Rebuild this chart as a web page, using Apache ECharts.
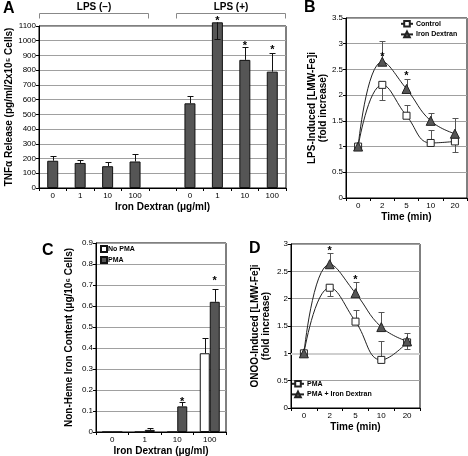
<!DOCTYPE html>
<html><head><meta charset="utf-8">
<script src="https://cdn.jsdelivr.net/npm/echarts@6/dist/echarts.min.js"></script>
<style>html,body{margin:0;padding:0;background:#fff}#c{width:468px;height:456px}</style>
</head><body><div id="c"></div>
<script>
// ---------- Panel A ----------
const aCategories = ['0','1','10','100','','0','1','10','100'];
const aValues = [185,170,148,180,null,575,1125,870,790];
const aErrEnd = [218,192,177,230,null,625,1015,955,915];
const aStarAt = [null,null,null,null,null,null,1154,985,955];
const aGroupLabels = ['LPS (\u2013)','LPS (+)'];
const aGroupRanges = [[0,3],[5,8]];
// ---------- Panel B ----------
const bTimes = ['0','2','5','10','20'];
const bControl = [1,2.2,1.6,1.07,1.1];
const bControlErr = [null,1.9,1.8,1.32,0.9];
const bIron = [1,2.65,2.12,1.5,1.25];
const bIronErr = [null,3.05,2.32,1.65,1.55];
const bStarAt = [null,2.8,2.44,null,null];
// ---------- Panel C ----------
const cCategories = ['0','1','10','100'];
const cNoPma = [0,0,0,0.375];
const cNoPmaErr = [null,null,null,0.447];
const cPma = [0,0.01,0.122,0.62];
const cPmaErr = [null,0.02,0.145,0.68];
const cStarAt = [null,null,0.157,0.733];
// ---------- Panel D ----------
const dTimes = ['0','2','5','10','20'];
const dPma = [1,2.2,1.58,0.88,1.2];
const dPmaErr = [null,2.05,1.8,1.22,1.08];
const dIron = [1,2.63,2.1,1.48,1.22];
const dIronErr = [null,2.83,2.3,1.75,1.38];
const dStarAt = [null,2.92,2.39,null,null];

const FONT = '"Liberation Sans", Arial, Helvetica, sans-serif';
const chart = echarts.init(document.getElementById('c'));

function gridBox(left, top, width, height){
  return {left, top, width, height, show:true, borderColor:'#000', borderWidth:1,
    containLabel:false, outerBoundsMode:'none'};
}
function catAxis(gi, data, name, nameGap){
  return {gridIndex:gi, type:'category', data, boundaryGap:true,
    axisLine:{show:true, lineStyle:{color:'#000', width:1}},
    axisTick:{show:true, length:3, lineStyle:{color:'#000'}},
    axisLabel:{fontSize:8, color:'#000', fontFamily:FONT, margin:4, interval:0},
    name, nameLocation:'middle', nameGap, nameMoveOverlap:false,
    nameTextStyle:{fontSize:10, fontWeight:'bold', color:'#000', fontFamily:FONT}};
}
function valAxis(gi, max, interval, name, nameGap){
  return {gridIndex:gi, type:'value', min:0, max, interval,
    axisLine:{show:true, lineStyle:{color:'#000', width:1}},
    axisTick:{show:true, length:3, lineStyle:{color:'#000'}},
    axisLabel:{fontSize:8, color:'#000', fontFamily:FONT, margin:3,
      formatter:v=>String(+(+v).toFixed(2))},
    splitLine:{show:true, lineStyle:{color:'#a0a0a0', width:1}},
    name, nameLocation:'middle', nameGap, nameRotate:90, nameMoveOverlap:false,
    nameTextStyle:{fontSize:10, fontWeight:'bold', color:'#000', fontFamily:FONT, lineHeight:11}};
}
function errSeries(ai, vals, ends, offset, color){
  const data = [];
  vals.forEach((v,i)=>{ if(v!=null && ends[i]!=null) data.push([i,v,ends[i]]); });
  return {type:'custom', xAxisIndex:ai, yAxisIndex:ai, data, silent:true, z:3,
    encode:{x:0, y:[1,2]},
    renderItem:(p, api)=>{
      const a = api.coord([api.value(0), api.value(1)]);
      const b = api.coord([api.value(0), api.value(2)]);
      const x = Math.round(a[0]+offset)+0.5;
      const yb = Math.round(b[1])+0.5;
      return {type:'group', children:[
        {type:'line', shape:{x1:x, y1:a[1], x2:x, y2:yb}, style:{stroke:color, lineWidth:1}},
        {type:'line', shape:{x1:x-3, y1:yb, x2:x+3, y2:yb}, style:{stroke:color, lineWidth:1}}
      ]};
    }};
}
function starSeries(ai, ys, offset){
  const data = [];
  ys.forEach((y,i)=>{ if(y!=null) data.push([i,y]); });
  return {type:'custom', xAxisIndex:ai, yAxisIndex:ai, data, silent:true, z:4,
    encode:{x:0, y:1},
    renderItem:(p, api)=>{
      const c = api.coord([api.value(0), api.value(1)]);
      return {type:'text', x:c[0]+offset, y:c[1]+3,
        style:{text:'*', fontSize:11, fontWeight:'bold', fontFamily:FONT,
          align:'center', verticalAlign:'middle', textAlign:'center', textVerticalAlign:'middle', fill:'#000'}};
    }};
}
function lineSeries(ai, name, data, symbol, size, fill){
  return {type:'line', name, xAxisIndex:ai, yAxisIndex:ai, data, smooth:0.45,
    symbol, symbolSize:size, showAllSymbol:true, z:5,
    lineStyle:{color:'#222', width:1},
    itemStyle:{color:fill, borderColor:'#222', borderWidth:1}};
}

const bracketData = aGroupRanges.map((r,i)=>[r[0], r[1], i]);

const option = {
  animation:false,
  backgroundColor:'#fff',
  textStyle:{fontFamily:FONT},
  grid:[gridBox(39,26,247,162), gridBox(346,18,121,180), gridBox(96,243,130,189), gridBox(291,244,129,164)],
  xAxis:[
    catAxis(0, aCategories, 'Iron Dextran (\u03bcg/ml)', 14),
    catAxis(1, bTimes, 'Time (min)', 14),
    catAxis(2, cCategories, 'Iron Dextran (\u03bcg/ml)', 14),
    catAxis(3, dTimes, 'Time (min)', 14)
  ],
  yAxis:[
    valAxis(0, 1100, 100, 'TNF\u03b1 Release (pg/ml/2x10\u2075 Cells)', 24),
    valAxis(1, 3.5, 0.5, 'LPS-Induced [LMW-Fe]i\n(fold increase)', 17),
    valAxis(2, 0.9, 0.1, 'Non-Heme Iron Content (\u03bcg/10\u2076 Cells)', 21),
    valAxis(3, 3, 0.5, 'ONOO-Induced [LMW-Fe]i\n(fold increase)', 19)
  ],
  legend:[
    {data:['Control','Iron Dextran'], left:400, top:20, orient:'vertical', padding:0,
      itemWidth:12, itemHeight:7, itemGap:3,
      textStyle:{fontSize:7, fontWeight:'bold', color:'#000', fontFamily:FONT, padding:[0,0,0,-2]}},
    {data:['No PMA','PMA'], left:100, top:245, orient:'vertical', padding:0, icon:'rect',
      itemWidth:6, itemHeight:6, itemGap:3,
      textStyle:{fontSize:7, fontWeight:'bold', color:'#000', fontFamily:FONT, padding:[0,0,0,-4]}},
    {data:['PMA ','PMA + Iron Dextran'], left:291, top:380, orient:'vertical', padding:0,
      itemWidth:12, itemHeight:7, itemGap:3,
      textStyle:{fontSize:7, fontWeight:'bold', color:'#000', fontFamily:FONT, padding:[0,0,0,-2]}}
  ],
  graphic:[
    {type:'text', left:3, top:1, style:{text:'A', font:'bold 16px '+FONT, fill:'#000'}},
    {type:'text', left:304, top:0, style:{text:'B', font:'bold 16px '+FONT, fill:'#000'}},
    {type:'text', left:42, top:243, style:{text:'C', font:'bold 16px '+FONT, fill:'#000'}},
    {type:'text', left:249, top:241, style:{text:'D', font:'bold 16px '+FONT, fill:'#000'}}
  ],
  series:[
    // Panel A
    {type:'bar', xAxisIndex:0, yAxisIndex:0, data:aValues.map(v=>v==null?'-':v), barWidth:11, clip:false,
      itemStyle:{color:'#555', borderColor:'#111', borderWidth:1}, z:2},
    errSeries(0, aValues, aErrEnd, 0, '#111'),
    starSeries(0, aStarAt, 0),
    {type:'custom', xAxisIndex:0, yAxisIndex:0, data:bracketData, silent:true, clip:false,
      encode:{x:[0,1]},
      renderItem:(p, api)=>{
        const band = api.size([1,0])[0];
        const c1 = api.coord([api.value(0), 1100]);
        const c2 = api.coord([api.value(1), 1100]);
        const x1 = Math.round(c1[0]-band/2)+0.5, x2 = Math.round(c2[0]+band/2)-0.5;
        const y = Math.round(c1[1]-13)+0.5;
        return {type:'group', children:[
          {type:'polyline', shape:{points:[[x1,y+5],[x1,y],[x2,y],[x2,y+5]]}, style:{stroke:'#888', lineWidth:1, fill:null}},
          {type:'text', x:(x1+x2)/2, y:y-6, style:{text:aGroupLabels[api.value(2)], fontSize:10, fontWeight:'bold', fontFamily:FONT,
            align:'center', verticalAlign:'middle', textAlign:'center', textVerticalAlign:'middle', fill:'#000'}}
        ]};
      }},
    // Panel B
    errSeries(1, bControl, bControlErr, 0, '#555'),
    errSeries(1, bIron, bIronErr, 0, '#555'),
    lineSeries(1, 'Control', bControl, 'rect', 7, '#fff'),
    lineSeries(1, 'Iron Dextran', bIron, 'triangle', 9, '#555'),
    starSeries(1, bStarAt, 0),
    // Panel C
    {type:'bar', name:'No PMA', xAxisIndex:2, yAxisIndex:2, data:cNoPma, barWidth:10, barGap:'0%',
      itemStyle:{color:'#fff', borderColor:'#111', borderWidth:1}},
    {type:'bar', name:'PMA', xAxisIndex:2, yAxisIndex:2, data:cPma, barWidth:10, barGap:'0%',
      itemStyle:{color:'#555', borderColor:'#111', borderWidth:1}},
    errSeries(2, cNoPma, cNoPmaErr, -5, '#111'),
    errSeries(2, cPma, cPmaErr, 5, '#111'),
    starSeries(2, cStarAt, 5),
    // Panel D
    errSeries(3, dPma, dPmaErr, 0, '#555'),
    errSeries(3, dIron, dIronErr, 0, '#555'),
    Object.assign(lineSeries(3, 'PMA ', dPma, 'rect', 7, '#fff'), {
      markLine:{silent:true, symbol:'none', label:{show:false}, data:[{yAxis:1}],
        lineStyle:{color:'#cfcfcf', width:2, type:'solid'}, z:1}}),
    lineSeries(3, 'PMA + Iron Dextran', dIron, 'triangle', 9, '#555'),
    starSeries(3, dStarAt, 0)
  ]
};
chart.setOption(option);
</script></body></html>
